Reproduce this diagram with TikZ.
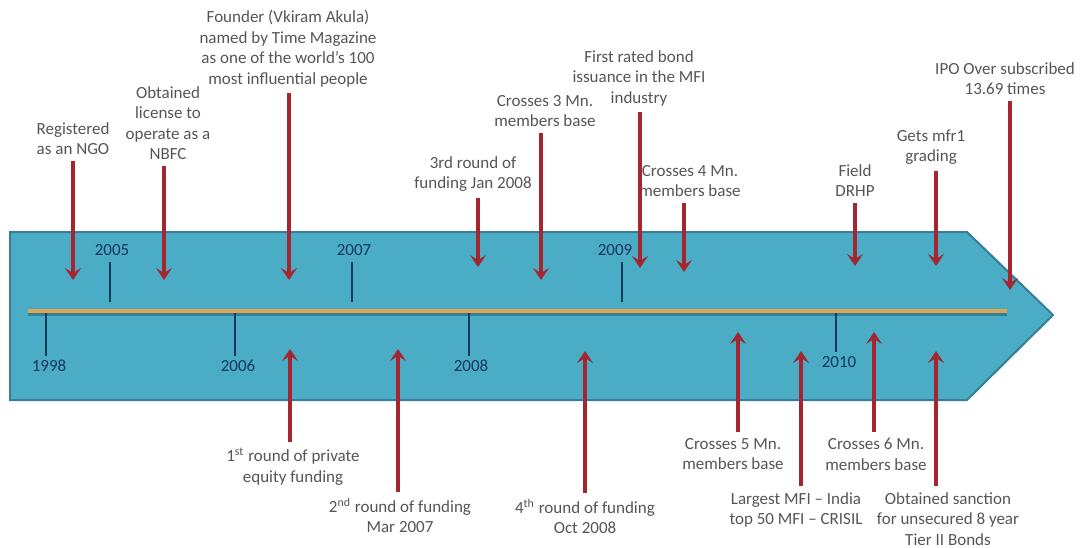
\documentclass[tikz,border=0pt]{standalone}
\usepackage{fontspec}
\setmainfont{Carlito}
\usepackage{xcolor}
\usepackage{tikz}
\usetikzlibrary{arrows.meta,positioning}

\definecolor{bandblue}{RGB}{75,172,198}
\definecolor{bandedge}{RGB}{52,128,150}
\definecolor{evtred}{RGB}{163,38,48}
\definecolor{yearblue}{RGB}{23,55,94}
\definecolor{lblgray}{RGB}{85,85,85}
\definecolor{axisgold}{RGB}{222,165,85}

\begin{document}
\begin{tikzpicture}[x=0.5pt, y=-0.5pt,
        lbl/.style={align=center, inner sep=1pt, text=lblgray, anchor=north,
            font=\fontsize{8.5}{10.25}\selectfont},
        yr/.style={inner sep=1pt, text=yearblue, font=\fontsize{8.5}{10.25}\selectfont},
        evt/.style={-{Stealth[length=6pt,width=8pt,inset=2.5pt]}, line width=1.6pt,
            draw=evtred, shorten <=2pt},
        tick/.style={draw=yearblue, line width=0.8pt}]

        \useasboundingbox (0,0) rectangle (1085,547);

        \path[fill=bandblue, draw=bandedge, line width=1pt]
            (10,232) -- (967,232) -- (1053,315) -- (967,400) -- (10,400) -- cycle;

        \coordinate (ax0) at (28,311);
        \coordinate (ax1) at (1007,311);
        \draw[bandedge, line width=1.5pt] ([yshift=-1.6pt]ax0) -- ([yshift=-1.6pt]ax1);
        \draw[axisgold, line width=2pt] (ax0) -- (ax1);

        \node[yr] (y2005) at (112,250) {2005};
        \node[yr] (y2007) at (354,250) {2007};
        \node[yr] (y2009) at (615,250) {2009};
        \node[yr] (y1998) at (49,366) {1998};
        \node[yr] (y2006) at (238,366) {2006};
        \node[yr] (y2008) at (471,366) {2008};
        \node[yr] (y2010) at (839,362) {2010};

        \draw[tick] (110,262) -- (110,302);
        \draw[tick] (352,262) -- (352,302);
        \draw[tick] (622,262) -- (622,302);
        \draw[tick] (46,313) -- (46,356);
        \draw[tick] (235,313) -- (235,356);
        \draw[tick] (469,313) -- (469,356);
        \draw[tick] (836,313) -- (836,352);

        \coordinate (tngo) at (73,280);
        \coordinate (tnbfc) at (164,280);
        \coordinate (ttime) at (289,280);
        \coordinate (tfund3) at (478,267);
        \coordinate (tmem3) at (541,280);
        \coordinate (tbond) at (640,268);
        \coordinate (tmem4) at (684,272);
        \coordinate (tdrhp) at (855,266);
        \coordinate (tmfr) at (936,266);
        \coordinate (tipo) at (1010,290);

        \node[lbl] (ngo) at (73,120) {Registered\\as an NGO};
        \node[lbl] (nbfc) at (168,84) {Obtained\\license to\\operate as a\\NBFC};
        \node[lbl] (time) at (288,8) {Founder (Vkiram Akula)\\named by Time Magazine\\as one of the world’s 100\\most influential people};
        \node[lbl] (fund3) at (473,154) {3rd round of\\funding Jan 2008};
        \node[lbl] (mem3) at (545,93) {Crosses 3 Mn.\\members base};
        \node[lbl] (bond) at (639,48) {First rated bond\\issuance in the MFI\\industry};
        \node[lbl] (mem4) at (690,163) {Crosses 4 Mn.\\members base};
        \node[lbl] (drhp) at (855,162) {Field\\DRHP};
        \node[lbl] (mfr) at (931,127) {Gets mfr1\\grading};
        \node[lbl] (ipo) at (1005,60) {IPO Over subscribed\\13.69 times};

        \draw[evt] (ngo.south -| tngo) -- (tngo);
        \draw[evt] (nbfc.south -| tnbfc) -- (tnbfc);
        \draw[evt] (time.south -| ttime) -- (ttime);
        \draw[evt] (fund3.south -| tfund3) -- (tfund3);
        \draw[evt] (mem3.south -| tmem3) -- (tmem3);
        \draw[evt] (bond.south -| tbond) -- (tbond);
        \draw[evt] (mem4.south -| tmem4) -- (tmem4);
        \draw[evt] (drhp.south -| tdrhp) -- (tdrhp);
        \draw[evt] (mfr.south -| tmfr) -- (tmfr);
        \draw[evt] (ipo.south -| tipo) -- (tipo);

        \coordinate (tfund1) at (290,349);
        \coordinate (tfund2) at (398,349);
        \coordinate (tfund4) at (585,351);
        \coordinate (tmem5) at (738,332);
        \coordinate (tcrisil) at (801,351);
        \coordinate (tmem6) at (874,332);
        \coordinate (ttier2) at (936,351);

        \node[lbl] (fund1) at (293,446) {1\textsuperscript{st} round of private\\equity funding};
        \node[lbl] (fund2) at (400,496) {2\textsuperscript{nd} round of funding\\Mar 2007};
        \node[lbl] (fund4) at (585,497) {4\textsuperscript{th} round of funding\\Oct 2008};
        \node[lbl] (mem5) at (733,436) {Crosses 5 Mn.\\members base};
        \node[lbl] (crisil) at (796,490) {Largest MFI – India\\top 50 MFI – CRISIL};
        \node[lbl] (mem6) at (876,436) {Crosses 6 Mn.\\members base};
        \node[lbl] (tier2) at (948,490) {Obtained sanction\\for unsecured 8 year\\Tier II Bonds};

        \draw[evt] (fund1.north -| tfund1) -- (tfund1);
        \draw[evt] (fund2.north -| tfund2) -- (tfund2);
        \draw[evt] (fund4.north -| tfund4) -- (tfund4);
        \draw[evt] (mem5.north -| tmem5) -- (tmem5);
        \draw[evt] (crisil.north -| tcrisil) -- (tcrisil);
        \draw[evt] (mem6.north -| tmem6) -- (tmem6);
        \draw[evt] (tier2.north -| ttier2) -- (ttier2);
    \end{tikzpicture}
\end{document}
